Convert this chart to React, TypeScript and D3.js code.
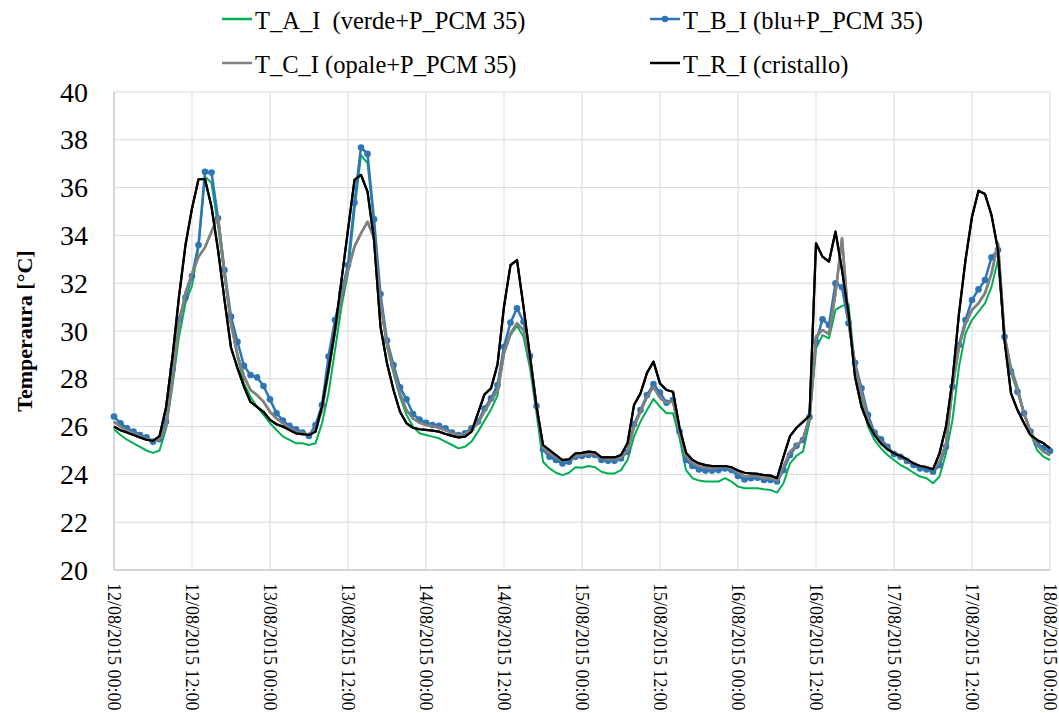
import React from 'react';
import * as d3 from 'd3';

// hourly samples, 12/08/2015 00:00 -> 18/08/2015 00:00 (145 points)
const tickLabels = [
  '12/08/2015 00:00', '12/08/2015 12:00', '13/08/2015 00:00', '13/08/2015 12:00',
  '14/08/2015 00:00', '14/08/2015 12:00', '15/08/2015 00:00', '15/08/2015 12:00',
  '16/08/2015 00:00', '16/08/2015 12:00', '17/08/2015 00:00', '17/08/2015 12:00',
  '18/08/2015 00:00',
];
const yTicks = [20, 22, 24, 26, 28, 30, 32, 34, 36, 38, 40];

const seriesA = [
  25.89, 25.65, 25.45, 25.3, 25.15, 25.0, 24.9, 25.0, 25.9, 27.7,
  29.76, 31.17, 31.9, 33.5, 36.45, 36.2, 34.4, 32.3, 30.4, 28.9,
  27.8, 27.25, 26.83, 26.5, 26.14, 25.86, 25.58, 25.44, 25.3, 25.3,
  25.23, 25.3, 26.14, 27.39, 29.2, 31.02, 32.41, 35.06, 37.36, 37.02,
  34.5, 31.16, 29.34, 28.23, 27.25, 26.49, 26.0, 25.72, 25.65, 25.58,
  25.51, 25.37, 25.23, 25.09, 25.16, 25.37, 25.79, 26.25, 26.72, 27.3,
  29.07, 29.83, 30.21, 29.76, 28.44, 26.56, 24.53, 24.25, 24.07, 23.97,
  24.07, 24.3, 24.28, 24.35, 24.3, 24.11, 24.04, 24.04, 24.18, 24.6,
  25.58, 26.21, 26.69, 27.16, 26.83, 26.56, 26.56, 25.52, 24.18, 23.84,
  23.74, 23.7, 23.7, 23.7, 23.84, 23.7, 23.49, 23.42, 23.42, 23.42,
  23.38, 23.35, 23.24, 23.63, 24.46, 24.78, 24.96, 26.2, 29.27, 29.83,
  29.69, 30.88, 31.05, 31.13, 28.51, 27.25, 26.0, 25.44, 25.09, 24.81,
  24.6, 24.39, 24.25, 24.07, 23.91, 23.84, 23.63, 23.91, 24.88, 26.28,
  28.51, 29.9, 30.46, 30.81, 31.16, 31.85, 32.97, 29.76, 28.51, 27.67,
  26.56, 25.72, 25.02, 24.74, 24.6,
];

const seriesB = [
  26.42, 26.14, 25.93, 25.79, 25.65, 25.55, 25.37, 25.47, 26.2, 28.4,
  30.5, 31.4, 32.3, 33.6, 36.66, 36.63, 34.72, 32.55, 30.6, 29.55,
  28.54, 28.16, 28.06, 27.7, 27.14, 26.56, 26.25, 26.03, 25.89, 25.75,
  25.61, 26.07, 26.9, 28.93, 30.46, 31.6, 32.76, 35.37, 37.68, 37.41,
  34.67, 31.55, 29.6, 28.58, 27.64, 27.14, 26.53, 26.3, 26.16, 26.07,
  26.03, 25.93, 25.75, 25.65, 25.72, 25.93, 26.21, 26.76, 27.18, 27.74,
  29.34, 30.35, 30.95, 30.39, 28.95, 26.86, 25.05, 24.74, 24.6, 24.46,
  24.53, 24.74, 24.77, 24.81, 24.81, 24.6, 24.57, 24.57, 24.67, 24.95,
  26.1, 26.69, 27.32, 27.78, 27.42, 27.0, 27.11, 25.79, 24.6, 24.35,
  24.21, 24.16, 24.16, 24.18, 24.25, 24.18, 23.93, 23.79, 23.84, 23.86,
  23.77, 23.77, 23.7, 24.18, 24.81, 25.2, 25.44, 26.4, 29.55, 30.49,
  30.25, 32.0, 31.83, 30.32, 28.67, 27.6, 26.49, 25.75, 25.47, 25.16,
  24.85, 24.74, 24.56, 24.39, 24.25, 24.21, 24.11, 24.39, 25.16, 27.67,
  29.41, 30.46, 31.3, 31.74, 32.13, 33.08, 33.39, 29.76, 28.3, 27.46,
  26.56, 25.79, 25.3, 25.1, 24.98,
];

const seriesC = [
  26.2, 26.0, 25.85, 25.72, 25.6, 25.5, 25.4, 25.45, 26.0, 28.0,
  30.3, 31.6, 32.4, 33.1, 33.5, 34.15, 34.8, 32.4, 30.3, 29.0,
  28.1, 27.53, 27.32, 27.04, 26.62, 26.34, 26.14, 25.93, 25.79, 25.75,
  25.65, 25.86, 26.69, 28.3, 30.0, 31.44, 32.55, 33.53, 34.09, 34.57,
  33.9, 31.16, 29.48, 28.37, 27.39, 26.69, 26.34, 26.16, 26.07, 26.03,
  25.95, 25.86, 25.72, 25.65, 25.69, 25.86, 26.14, 26.65, 27.1, 27.5,
  29.07, 29.9, 30.32, 30.04, 28.86, 26.83, 25.13, 24.88, 24.71, 24.57,
  24.6, 24.77, 24.81, 24.85, 24.85, 24.67, 24.63, 24.63, 24.71, 24.98,
  26.0, 26.62, 27.25, 27.65, 27.2, 27.0, 27.05, 25.83, 24.74, 24.46,
  24.32, 24.29, 24.25, 24.29, 24.32, 24.25, 24.07, 23.91, 23.93, 23.91,
  23.84, 23.84, 23.74, 24.32, 24.95, 25.2, 25.48, 26.4, 29.76, 30.04,
  29.87, 31.58, 33.88, 30.46, 28.51, 27.39, 26.28, 25.65, 25.37, 25.09,
  24.88, 24.77, 24.6, 24.46, 24.35, 24.3, 24.18, 24.53, 25.29, 27.67,
  29.34, 30.32, 30.88, 31.16, 31.58, 32.41, 33.67, 29.83, 28.37, 27.53,
  26.56, 25.79, 25.23, 24.95, 24.81,
];

const seriesR = [
  26.0, 25.85, 25.75, 25.65, 25.55, 25.45, 25.4, 25.6, 26.8, 28.93,
  31.44, 33.6, 35.13, 36.35, 36.35, 35.2, 33.4, 31.3, 29.3, 28.45,
  27.67, 27.03, 26.83, 26.62, 26.28, 26.1, 26.0, 25.86, 25.72, 25.69,
  25.65, 25.79, 26.83, 28.37, 30.04, 32.13, 34.23, 36.32, 36.53, 35.83,
  33.81, 30.18, 28.65, 27.53, 26.62, 26.14, 25.95, 25.89, 25.86, 25.83,
  25.79, 25.69, 25.61, 25.55, 25.58, 25.79, 26.56, 27.35, 27.6, 28.6,
  31.02, 32.76, 32.97, 31.02, 28.93, 26.83, 25.23, 25.02, 24.81, 24.6,
  24.63, 24.88, 24.9, 24.95, 24.92, 24.71, 24.71, 24.71, 24.81, 25.3,
  26.9, 27.39, 28.25, 28.72, 27.8, 27.53, 27.46, 25.95, 24.91, 24.6,
  24.46, 24.39, 24.35, 24.35, 24.35, 24.3, 24.16, 24.07, 24.04, 24.02,
  23.97, 23.95, 23.84, 24.74, 25.6, 25.95, 26.2, 26.45, 33.67, 33.11,
  32.9, 34.16, 32.55, 30.74, 28.09, 26.83, 26.14, 25.65, 25.3, 25.05,
  24.88, 24.77, 24.63, 24.46, 24.35, 24.3, 24.21, 24.88, 26.0, 27.95,
  30.74, 32.97, 34.78, 35.87, 35.73, 34.85, 33.39, 29.62, 27.39, 26.69,
  26.14, 25.65, 25.44, 25.3, 25.09,
];

const seriesNames = [
  'T_A_I  (verde+P_PCM 35)',
  'T_B_I (blu+P_PCM 35)',
  'T_C_I (opale+P_PCM 35)',
  'T_R_I (cristallo)',
];
const seriesColors = ['#00b050', '#2e75b6', '#808080', '#000000'];

const W = 1059;
const H = 713;
const left = 114;
const right = 1050;
const top = 92;
const bottom = 570;
const font = '"Times New Roman", "Liberation Serif", serif';

export default function App() {
  const x = d3.scaleLinear().domain([0, 144]).range([left, right]);
  const y = d3.scaleLinear().domain([20, 40]).range([bottom, top]);
  const line = d3
    .line<number>()
    .x((_, i) => x(i))
    .y((d) => y(d));

  const all = [seriesA, seriesB, seriesC, seriesR];
  const widths = [2, 2.5, 2.5, 2.2];

  return (
    <svg
      width={W}
      height={H}
      style={{ position: 'absolute', left: 0, top: 0, background: '#fff' }}
    >
      {/* grid */}
      {yTicks.map((t) => (
        <line key={'gy' + t} x1={left} x2={right} y1={y(t)} y2={y(t)} stroke="#d9d9d9" strokeWidth={1} />
      ))}
      {tickLabels.map((_, i) => (
        <line key={'gx' + i} x1={x(i * 12)} x2={x(i * 12)} y1={top} y2={bottom} stroke="#d9d9d9" strokeWidth={1} />
      ))}
      <line x1={left} x2={left} y1={top} y2={bottom} stroke="#bfbfbf" strokeWidth={1} />
      <line x1={left} x2={right} y1={bottom} y2={bottom} stroke="#bfbfbf" strokeWidth={1} />

      {/* y ticks */}
      {yTicks.map((t) => (
        <text key={'ty' + t} x={88} y={y(t)} textAnchor="end" dominantBaseline="central" fontFamily={font} fontSize={28} fill="#000">
          {t}
        </text>
      ))}
      <text
        transform={`translate(24,${(top + bottom) / 2}) rotate(-90)`}
        textAnchor="middle"
        dominantBaseline="central"
        fontFamily={font}
        fontSize={22}
        fontWeight="bold"
      >
        Temperaura [°C]
      </text>

      {/* x ticks */}
      {tickLabels.map((lab, i) => (
        <text
          key={'tx' + i}
          transform={`translate(${x(i * 12)},583) rotate(90)`}
          textAnchor="start"
          dominantBaseline="central"
          fontFamily={font}
          fontSize={18}
        >
          {lab}
        </text>
      ))}

      {/* series */}
      {all.map((s, k) => (
        <path key={'s' + k} d={line(s) || ''} fill="none" stroke={seriesColors[k]} strokeWidth={widths[k]} strokeLinejoin="round" />
      ))}
      {seriesB.map((v, i) => (
        <circle key={'m' + i} cx={x(i)} cy={y(v)} r={3.3} fill={seriesColors[1]} />
      ))}
      {[2, 3].map((k) => (
        <path key={'t' + k} d={line(all[k]) || ''} fill="none" stroke={seriesColors[k]} strokeWidth={widths[k]} strokeLinejoin="round" />
      ))}

      {/* legend */}
      {seriesNames.map((name, k) => {
        const col = k % 2;
        const row = Math.floor(k / 2);
        const lx = col === 0 ? 222 : 650;
        const ly = row === 0 ? 19 : 63;
        return (
          <g key={'lg' + k}>
            <line x1={lx} x2={lx + 30} y1={ly} y2={ly} stroke={seriesColors[k]} strokeWidth={2.5} />
            {k === 1 && <circle cx={lx + 15} cy={ly} r={3.3} fill={seriesColors[1]} />}
            <text x={lx + 33} y={ly + 1} dominantBaseline="central" fontFamily={font} fontSize={24.5} fill="#000" style={{ whiteSpace: 'pre' }}>
              {name}
            </text>
          </g>
        );
      })}
    </svg>
  );
}
